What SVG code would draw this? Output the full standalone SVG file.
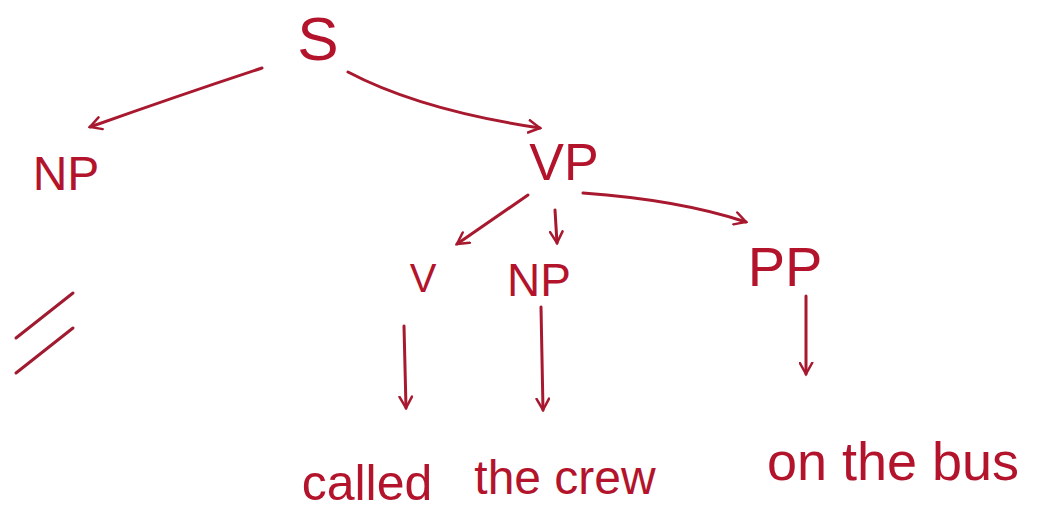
<svg xmlns="http://www.w3.org/2000/svg" width="1041" height="529" viewBox="0 0 1041 529">
<style>
.lbl{font-family:"Liberation Sans","DejaVu Sans",sans-serif;fill:#b3142c;text-anchor:middle}
.edge{stroke:#a8182e;stroke-width:3;fill:none;stroke-linecap:round}
.mark{stroke:#a01a30;stroke-width:3;fill:none;stroke-linecap:round}
</style>
<defs>
<marker id="ah" viewBox="0 0 12 12" refX="10" refY="6" markerWidth="5" markerHeight="5" orient="auto" markerUnits="strokeWidth">
<path d="M1,1 L10,6 L1,11" fill="none" stroke="#a8182e" stroke-width="2" stroke-linecap="round"/>
</marker>
</defs>
<rect width="1041" height="529" fill="#ffffff"/>
<g id="connectors">
<path class="edge" d="M262,68 Q180,95 90,127" marker-end="url(#ah)"/>
<path class="edge" d="M348,72 Q420,110 540,128" marker-end="url(#ah)"/>
<path class="edge" d="M528,195 L457,244" marker-end="url(#ah)"/>
<path class="edge" d="M555,210 L557,243" marker-end="url(#ah)"/>
<path class="edge" d="M583,193 Q680,200 746,222" marker-end="url(#ah)"/>
<path class="edge" d="M404,326 L406,408" marker-end="url(#ah)"/>
<path class="edge" d="M541,307 L543,410" marker-end="url(#ah)"/>
<path class="edge" d="M806,296 L806,374" marker-end="url(#ah)"/>
</g>
<g id="node-S"><text class="lbl" x="318" y="60" font-size="62">S</text></g>
<g id="node-NP1"><text class="lbl" x="66" y="190" font-size="48">NP</text></g>
<g id="node-VP"><text class="lbl" x="564" y="180" font-size="52">VP</text></g>
<g id="node-V"><text class="lbl" x="423" y="292" font-size="40">V</text></g>
<g id="node-NP2"><text class="lbl" x="539" y="296" font-size="46">NP</text></g>
<g id="node-PP"><text class="lbl" x="785" y="286" font-size="56">PP</text></g>
<g id="leaf-called"><text class="lbl" x="367" y="500" font-size="50">called</text></g>
<g id="leaf-crew"><text class="lbl" x="565" y="494" font-size="48">the crew</text></g>
<g id="leaf-bus"><text class="lbl" x="893" y="480" font-size="54">on the bus</text></g>
<g id="marks">
<line class="mark" x1="16" y1="338" x2="73" y2="293"/>
<line class="mark" x1="16" y1="373" x2="73" y2="328"/>
</g>
</svg>
